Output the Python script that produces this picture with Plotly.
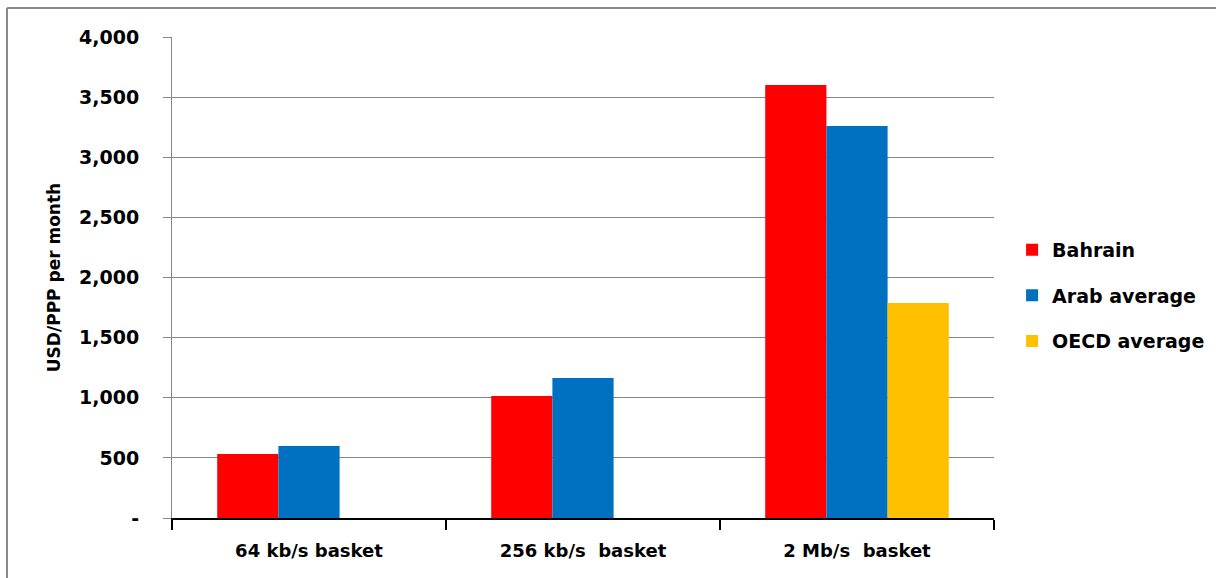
import plotly.graph_objects as go

categories = ["64 kb/s basket", "256 kb/s  basket", "2 Mb/s  basket"]
bahrain = [532, 1015, 3600]
arab_avg = [599, 1164, 3260]
oecd_avg = [None, None, 1788]

y_ticks = [0, 500, 1000, 1500, 2000, 2500, 3000, 3500, 4000]
y_tick_text = ["-", "500", "1,000", "1,500", "2,000", "2,500", "3,000", "3,500", "4,000"]

FONT = "DejaVu Sans"
W, H = 1216, 578
ML, MR, MT, MB = 172, 222, 37, 60

fig = go.Figure()
series = [
    ("Bahrain", bahrain, "#FF0000"),
    ("Arab average", arab_avg, "#0070C0"),
    ("OECD average", oecd_avg, "#FFC000"),
]
for i, (name, vals, color) in enumerate(series):
    fig.add_trace(go.Bar(
        name=name, x=categories, y=vals,
        marker=dict(color=color, line=dict(width=0)),
        legendgroup=f"g{i}",
    ))

# outer frame lines (left and top edges)
pw, ph = W - ML - MR, H - MT - MB
def px_x(p):
    return (p - ML) / pw
def px_y(p):
    return (H - MB - p) / ph

fig.add_shape(type="line", xref="paper", yref="paper",
              x0=px_x(7), x1=px_x(W + 5), y0=px_y(8), y1=px_y(8),
              line=dict(color="#888888", width=2))
fig.add_shape(type="line", xref="paper", yref="paper",
              x0=px_x(7), x1=px_x(7), y0=px_y(8), y1=px_y(H + 5),
              line=dict(color="#888888", width=2))

fig.update_layout(
    width=W, height=H,
    margin=dict(l=ML, r=MR, t=MT, b=MB, autoexpand=False),
    paper_bgcolor="white", plot_bgcolor="white",
    barmode="group", bargap=0.33, bargroupgap=0,
    font=dict(family=FONT, size=18, color="#000000"),
    showlegend=True,
    legend=dict(
        x=1.022, y=0.462, xanchor="left", yanchor="middle",
        font=dict(family=FONT, size=19, color="#000000", weight="bold"),
        traceorder="grouped", tracegroupgap=18,
        itemwidth=30,
    ),
)
fig.update_xaxes(
    type="category",
    showgrid=False,
    showline=True, linecolor="#000000", linewidth=1.5,
    ticks="outside", tickson="boundaries", ticklen=10, tickcolor="#000000", tickwidth=1.5,
    tickfont=dict(family=FONT, size=18, color="#000000", weight="bold"),
    ticklabelstandoff=16,
)
fig.update_yaxes(
    range=[0, 4000],
    tickvals=y_ticks, ticktext=y_tick_text,
    showgrid=True, gridcolor="#868686", gridwidth=1,
    showline=True, linecolor="#868686", linewidth=1,
    ticks="outside", ticklen=8, tickcolor="#868686",
    tickfont=dict(family=FONT, size=19, color="#000000", weight="bold"),
    ticklabelstandoff=20,
    zeroline=False,
    title=dict(text="USD/PPP per month", standoff=14,
               font=dict(family=FONT, size=17, color="#000000", weight="bold")),
)

fig.write_html("out.html")
